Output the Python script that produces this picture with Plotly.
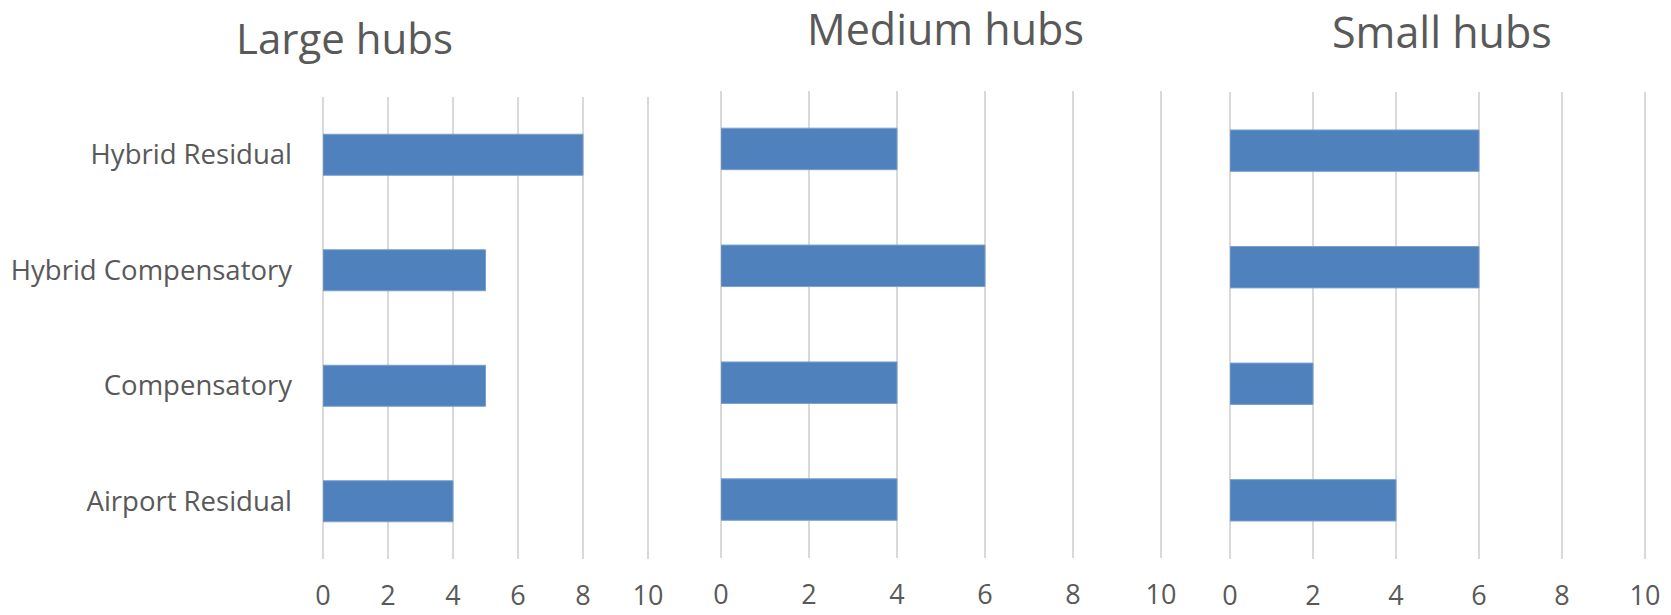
import plotly.graph_objects as go

# Funding model categories, listed top to bottom
categories = ["Hybrid Residual", "Hybrid Compensatory", "Compensatory", "Airport Residual"]

# Number of airports per model, by hub size
large_hubs = [8, 5, 5, 4]
medium_hubs = [4, 6, 4, 4]
small_hubs = [6, 6, 2, 4]

panel_titles = ["Large hubs", "Medium hubs", "Small hubs"]
x_ticks = [0, 2, 4, 6, 8, 10]
X_MAX = 10.05  # a little headroom so the gridline at 10 is kept

W, H = 1671, 615
BAR = "#4F81BD"
GRID = "#D9D9D9"
TEXT = "#595959"
FONT = "Open Sans"

# pixel boxes of each panel: (left, x of value 10, top, bottom)
boxes = [(323, 648, 97, 559), (721, 1161, 90.5, 558), (1230, 1645, 92.4, 558.6)]
# title centres in pixels, and title sizes
title_pos = [(344, 37), (945.5, 29), (1442, 32)]
title_size = [42, 43, 43]

fig = go.Figure()
series = [large_hubs, medium_hubs, small_hubs]
for i, vals in enumerate(series):
    ax = "" if i == 0 else str(i + 1)
    fig.add_trace(go.Bar(
        x=vals, y=categories, orientation="h",
        marker=dict(color=BAR, line=dict(color="#7A9FCF", width=1)),
        xaxis="x" + ax, yaxis="y" + ax, showlegend=False,
    ))
    l, r10, t, b = boxes[i]
    r = l + (r10 - l) * X_MAX / 10
    fig.layout["xaxis" + ax] = dict(
        domain=[l / W, r / W], range=[0, X_MAX], tickvals=x_ticks,
        showgrid=True, gridcolor=GRID, gridwidth=1.5,
        zeroline=True, zerolinecolor=GRID, zerolinewidth=1.5,
        showline=False, ticks="", anchor="y" + ax, automargin=False,
        tickfont=dict(family=FONT, size=27, color=TEXT),
        ticklabelstandoff=18, fixedrange=True,
    )
    fig.layout["yaxis" + ax] = dict(
        domain=[(H - b) / H, (H - t) / H], autorange="reversed",
        type="category", showgrid=False, zeroline=False, showline=False,
        ticks="", showticklabels=(i == 0), anchor="x" + ax, automargin=False,
        tickfont=dict(family=FONT, size=27.5, color=TEXT),
        ticklabelstandoff=30, fixedrange=True,
    )
    tx, ty = title_pos[i]
    fig.add_annotation(
        text=panel_titles[i], x=tx / W, y=(H - ty) / H,
        xref="paper", yref="paper", xanchor="center", yanchor="middle",
        showarrow=False, font=dict(family=FONT, size=title_size[i], color=TEXT),
    )

fig.update_layout(
    width=W, height=H, margin=dict(l=0, r=0, t=0, b=0, autoexpand=False),
    paper_bgcolor="white", plot_bgcolor="white",
    bargap=0.645,
)

fig.write_html("out.html")
